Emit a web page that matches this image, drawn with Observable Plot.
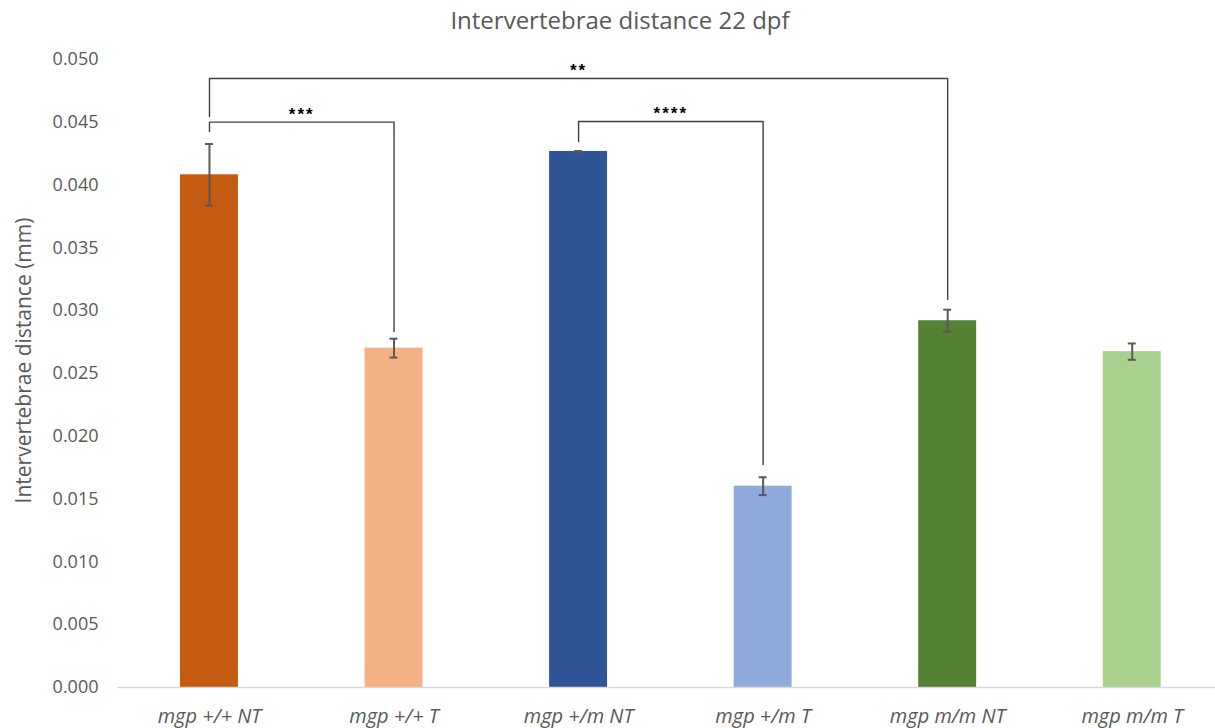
<!DOCTYPE html>
<html>
<head>
<meta charset="utf-8">
<script src="https://cdn.jsdelivr.net/npm/d3@7"></script>
<script src="https://cdn.jsdelivr.net/npm/@observablehq/plot@0.6"></script>
<style>
  body { margin: 0; background: #fff; font-family: "Open Sans", sans-serif; }
  #title { width: 1240px; height: 40px; line-height: 40px; text-align: center; font-size: 24px; color: #595959; }
  .xaxis text { font-style: italic; }
  .stars text { letter-spacing: 2px; }
</style>
</head>
<body>
<div id="title">Intervertebrae distance 22 dpf</div>
<div id="chart"></div>
<script>
// Groups (genotype × treatment)
const categories = ["mgp +/+ NT", "mgp +/+ T", "mgp +/m NT", "mgp +/m T", "mgp m/m NT", "mgp m/m T"];
// Mean intervertebrae distance (mm) and error (±)
const means  = [0.04082, 0.02702, 0.04268, 0.01603, 0.02920, 0.02674];
const errors = [0.00245, 0.00075, 0.00003, 0.00071, 0.00088, 0.00065];
const colors = ["#C55A11", "#F4B183", "#2F5597", "#8FAADC", "#548235", "#A9D18E"];
const yTicks = [0, 0.005, 0.010, 0.015, 0.020, 0.025, 0.030, 0.035, 0.040, 0.045, 0.050];

// Significance brackets: group indices, bar height, leg ends, label
const bracketFrom    = [0, 0, 2];
const bracketTo      = [4, 1, 3];
const bracketTop     = [0.04849, 0.04501, 0.04506];
const bracketFromEnd = [0.04546, 0.04427, 0.04347];
const bracketToEnd   = [0.03090, 0.02834, 0.01775];
const bracketLabels  = ["**", "***", "****"];

const data = categories.map((c, i) => ({i, c, mean: means[i], err: errors[i], color: colors[i]}));

const bracketPath = bracketFrom.flatMap((a, k) => [
  {k, x: a, y: bracketFromEnd[k]},
  {k, x: a, y: bracketTop[k]},
  {k, x: bracketTo[k], y: bracketTop[k]},
  {k, x: bracketTo[k], y: bracketToEnd[k]}
]);
const bracketText = bracketFrom.map((a, k) => ({x: (a + bracketTo[k]) / 2, y: bracketTop[k], label: bracketLabels[k]}));

const chart = Plot.plot({
  width: 1215,
  height: 688,
  marginLeft: 117,
  marginRight: 0,
  marginTop: 19,
  marginBottom: 41,
  style: {fontFamily: "Open Sans, sans-serif", background: "#fff"},
  x: {type: "linear", domain: [-0.5, 5.5], range: [116.7, 1224], axis: null},
  y: {domain: [0, 0.05], axis: null},
  marks: [
    Plot.axisY({ticks: yTicks, tickFormat: d3.format(".3f"), tickSize: 0, tickPadding: 19, fontSize: 18, color: "#595959", label: null}),
    Plot.axisX({ticks: d3.range(categories.length), tickFormat: i => categories[i], tickSize: 0, tickPadding: 21, fontSize: 20, color: "#595959", label: null, className: "xaxis"}),
    Plot.text(["Intervertebrae distance (mm)"], {frameAnchor: "left", textAnchor: "middle", rotate: -90, dx: -93, dy: -13, fontSize: 21, fill: "#595959"}),
    Plot.rectY(data, {x1: d => d.i - 0.5, x2: d => d.i + 0.5, y: "mean", fill: "color", insetLeft: 63.3, insetRight: 63.3}),
    Plot.ruleY([0], {stroke: "#D9D9D9", strokeWidth: 1.5}),
    Plot.ruleX(data, {x: "i", y1: d => d.mean - d.err, y2: d => d.mean + d.err, stroke: "#595959", strokeWidth: 2}),
    Plot.ruleY(data, {x1: d => d.i - 0.5, x2: d => d.i + 0.5, y: d => d.mean + d.err, insetLeft: 88.3, insetRight: 88.3, stroke: "#595959", strokeWidth: 2}),
    Plot.ruleY(data, {x1: d => d.i - 0.5, x2: d => d.i + 0.5, y: d => d.mean - d.err, insetLeft: 88.3, insetRight: 88.3, stroke: "#595959", strokeWidth: 2}),
    Plot.line(bracketPath, {x: "x", y: "y", z: "k", stroke: "#404040", strokeWidth: 1.4, curve: "linear"}),
    Plot.text(bracketText, {x: "x", y: "y", text: "label", dy: -8, fontSize: 17, fontWeight: "bold", fill: "#000", fontFamily: "Liberation Sans, sans-serif", className: "stars"})
  ]
});
document.getElementById("chart").append(chart);
</script>
</body>
</html>
